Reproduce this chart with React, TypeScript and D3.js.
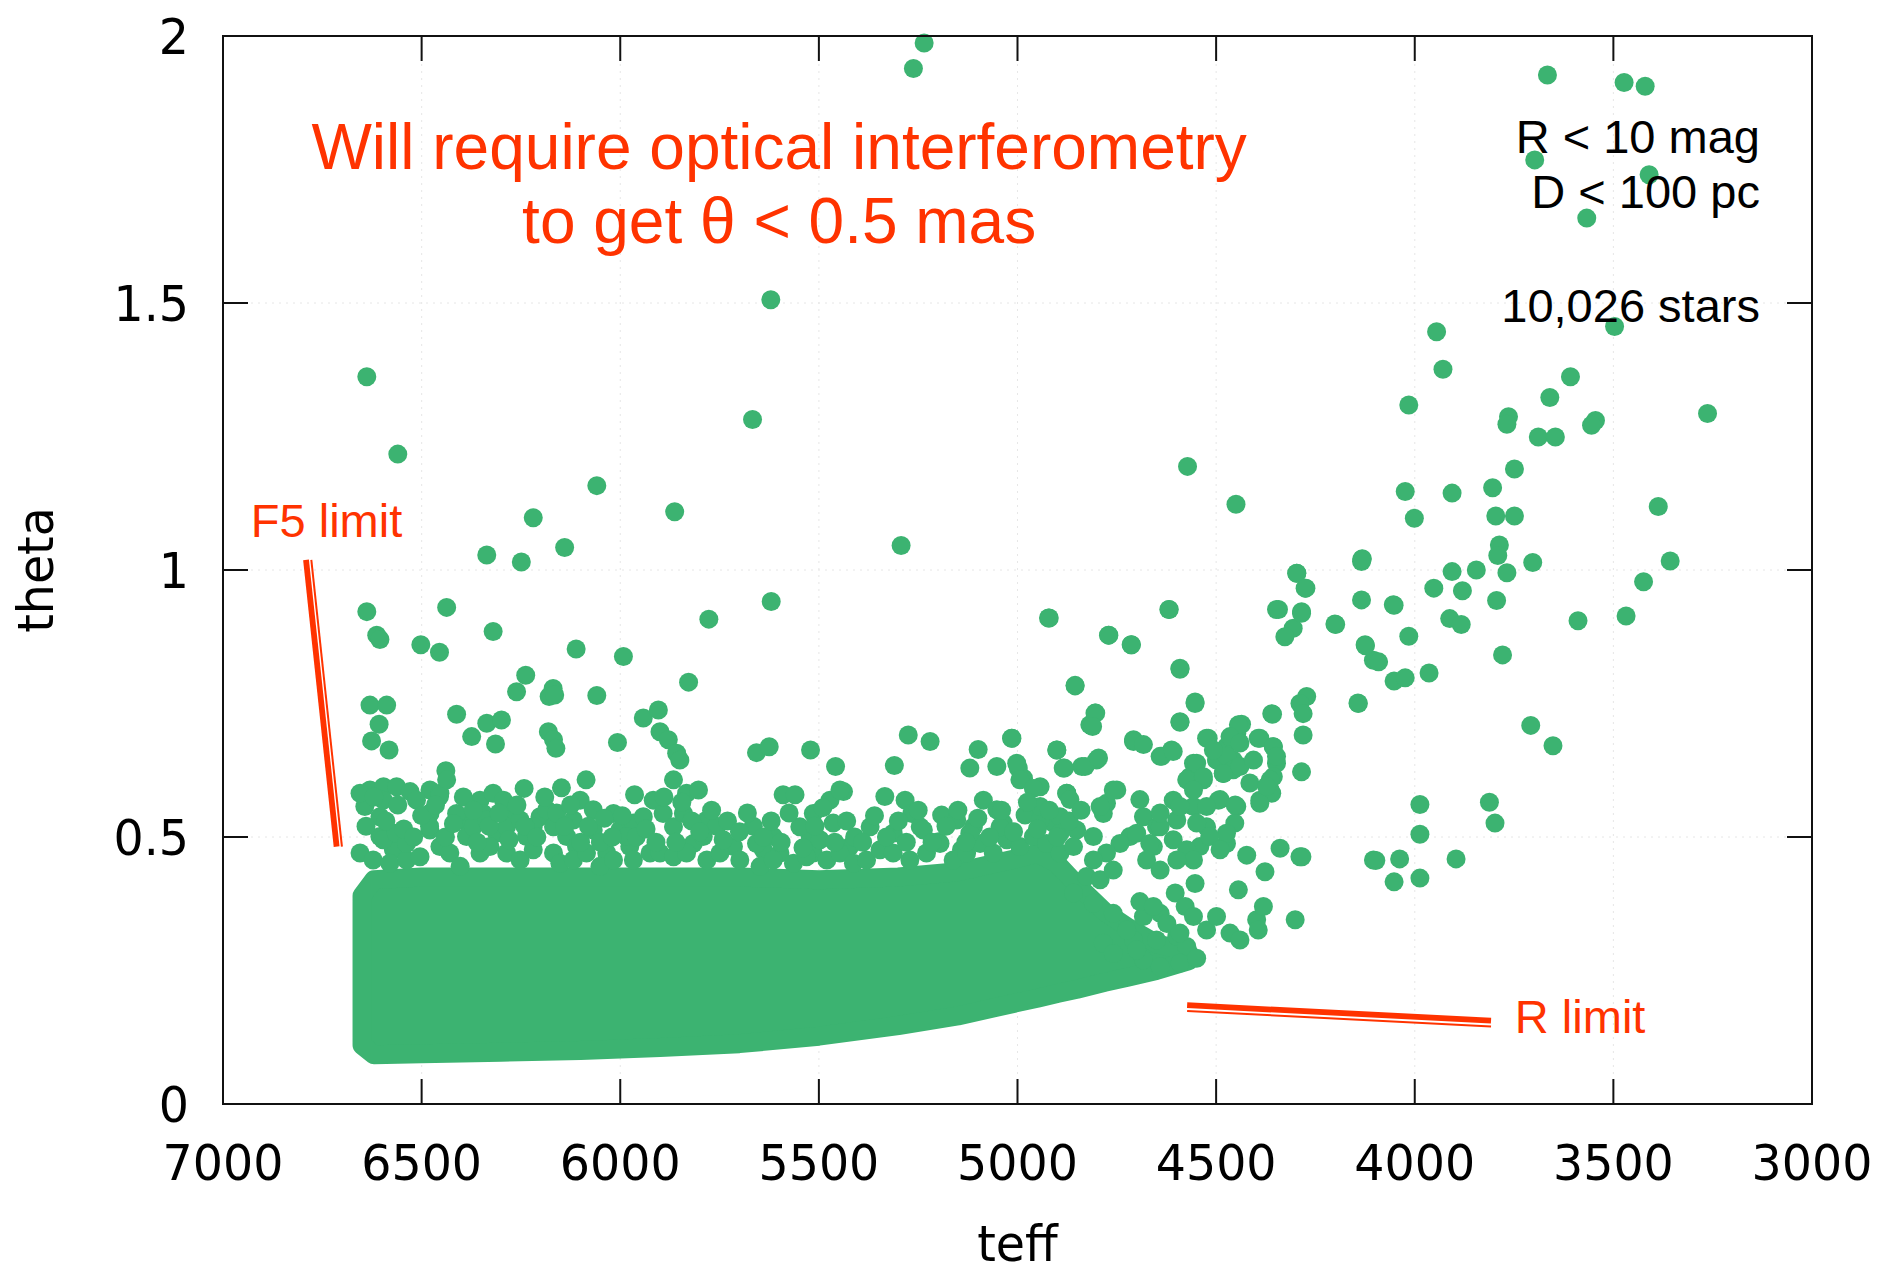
import React from 'react';
import * as d3 from 'd3';

const W = 1879;
const H = 1275;
const PLOT = { left: 223, right: 1812, top: 36, bottom: 1104 };

const xTicks = [7000, 6500, 6000, 5500, 5000, 4500, 4000, 3500, 3000];
const yTicks = [0, 0.5, 1, 1.5, 2];
const yTickLabels = ['0', '0.5', '1', '1.5', '2'];

// Envelope of the densely packed main-sequence core (dot centres)
const coreTeff = [6650, 6620, 6500, 6300, 6100, 5900, 5700, 5500, 5300, 5150, 5000, 4950, 4900, 4850, 4780, 4720, 4650, 4570];
const coreHigh = [0.39, 0.42, 0.425, 0.425, 0.425, 0.425, 0.425, 0.42, 0.425, 0.435, 0.46, 0.47, 0.45, 0.41, 0.36, 0.33, 0.30, 0.285];
const coreLow = [0.11, 0.092, 0.094, 0.097, 0.10, 0.106, 0.113, 0.127, 0.147, 0.165, 0.19, 0.198, 0.207, 0.215, 0.228, 0.238, 0.25, 0.268];

// Stars well above the core, hotter than ~5400 K  [teff, theta]
const hotStars: [number, number][] = [
  [6638, 1.362], [6560, 1.217], [6059, 1.158], [5863, 1.109], [6219, 1.098], [6140, 1.042],
  [6249, 1.015], [6336, 1.028], [5621, 1.506], [5667, 1.282], [5293, 1.046], [5620, 0.941],
  [5262, 1.939], [5235, 1.987],
  [6638, 0.922], [6613, 0.878], [6605, 0.870], [6437, 0.930], [6320, 0.885], [6502, 0.860],
  [6455, 0.846], [6111, 0.852], [5992, 0.838], [5777, 0.908],
  [6238, 0.803], [6261, 0.772], [6169, 0.778], [6179, 0.763], [6165, 0.766], [6059, 0.765], [5828, 0.790],
  [6630, 0.747], [6588, 0.747], [6607, 0.711], [6626, 0.680], [6582, 0.663], [6412, 0.730],
  [6374, 0.688], [6336, 0.713], [6299, 0.719], [6314, 0.674], [6181, 0.697], [6168, 0.682],
  [6162, 0.666], [6007, 0.677], [5942, 0.723], [5904, 0.738], [5900, 0.697], [5879, 0.682],
  [5858, 0.657], [5850, 0.644], [5657, 0.658], [5625, 0.669], [5521, 0.663], [5458, 0.632],
  [6439, 0.624], [6242, 0.591], [6148, 0.592], [6086, 0.607], [5964, 0.579], [5590, 0.579],
  [5560, 0.579], [5438, 0.585],
];

// Loose fringe on top of the core, 6700-5400 K
const hotFringe: [number, number][] = [
  [6630, 0.588], [6596, 0.594], [6563, 0.594], [6529, 0.585], [6643, 0.557], [6605, 0.538],
  [6605, 0.501], [6571, 0.507], [6571, 0.476], [6479, 0.588], [6454, 0.582], [6437, 0.607],
  [6479, 0.544], [6479, 0.513], [6454, 0.482], [6395, 0.532], [6353, 0.569], [6320, 0.582],
  [6294, 0.569], [6387, 0.501], [6345, 0.544], [6311, 0.507], [6269, 0.544], [6236, 0.501],
  [6202, 0.538], [6185, 0.551], [6135, 0.501], [6101, 0.569], [6068, 0.551], [6110, 0.482],
  [6068, 0.513], [6034, 0.470], [6001, 0.513], [5967, 0.526], [5942, 0.538], [5917, 0.569],
  [5892, 0.544], [5976, 0.482], [5925, 0.470], [5866, 0.607], [5833, 0.582], [5803, 0.588],
  [5782, 0.532], [5757, 0.520], [5816, 0.488], [5715, 0.482], [5665, 0.520], [5640, 0.476],
  [5598, 0.470], [5514, 0.544], [5472, 0.569], [5447, 0.588], [5464, 0.526], [5522, 0.501],
  [5514, 0.470], [5422, 0.482],
  [6597, 0.495], [6564, 0.507], [6480, 0.544], [6455, 0.576], [6480, 0.520],
  [6655, 0.470], [6622, 0.457], [6580, 0.451], [6538, 0.457], [6504, 0.463], [6429, 0.470],
  [6403, 0.445], [6353, 0.470], [6328, 0.482], [6286, 0.470], [6252, 0.457], [6219, 0.476],
  [6168, 0.470], [6152, 0.451], [6118, 0.457], [6085, 0.470], [6051, 0.445], [6017, 0.457],
  [5967, 0.457], [5900, 0.470], [5866, 0.463], [5833, 0.470], [5782, 0.457], [5749, 0.470],
  [5699, 0.457], [5648, 0.445], [5615, 0.457], [5564, 0.451], [5531, 0.463], [5480, 0.457],
  [5447, 0.470], [5413, 0.451],
  [6370, 0.519], [6336, 0.532], [6412, 0.544], [6286, 0.519], [6252, 0.532], [6219, 0.519],
  [6168, 0.519], [6118, 0.532], [6017, 0.544], [5984, 0.501], [5866, 0.519], [5841, 0.544],
  [5791, 0.501], [5741, 0.495], [5548, 0.519], [5497, 0.495], [5615, 0.501], [5657, 0.488],
  [6538, 0.488], [6596, 0.569], [6655, 0.582], [6513, 0.569],
  [6640, 0.520], [6620, 0.575], [6590, 0.530], [6560, 0.560], [6545, 0.515], [6520, 0.500],
  [6500, 0.540], [6465, 0.560], [6440, 0.500], [6420, 0.525], [6395, 0.575], [6370, 0.550],
  [6360, 0.490], [6330, 0.520], [6305, 0.545], [6280, 0.495], [6260, 0.560], [6240, 0.520],
  [6210, 0.500], [6190, 0.575], [6160, 0.545], [6140, 0.520], [6125, 0.560], [6100, 0.490],
  [6080, 0.520], [6050, 0.490], [6040, 0.535], [6020, 0.500], [5995, 0.540], [5960, 0.500],
  [5935, 0.515], [5910, 0.490], [5890, 0.575], [5860, 0.490], [5845, 0.565], [5820, 0.530],
  [5800, 0.510], [5770, 0.550], [5730, 0.530], [5700, 0.510], [5680, 0.545], [5640, 0.500],
  [5620, 0.530], [5595, 0.490], [5575, 0.545], [5540, 0.480], [5510, 0.520], [5490, 0.555],
  [5460, 0.490], [5430, 0.530], [5410, 0.500],
];

// Stars between 5400 K and 4300 K off the core
const warmStars: [number, number][] = [
  [4922, 0.910], [4771, 0.878], [4713, 0.860], [4618, 0.926], [4591, 0.816], [4855, 0.783],
  [4553, 0.753], [4591, 0.715], [4805, 0.732], [4818, 0.710],
  [4297, 0.994], [4276, 0.966], [4348, 0.926], [4285, 0.922], [4306, 0.891], [4327, 0.875],
  [4134, 1.016], [4134, 0.944], [4201, 0.899], [4125, 0.860], [4104, 0.831],
  [4272, 0.763], [4289, 0.750], [4281, 0.731], [4281, 0.691], [4285, 0.622], [4142, 0.750],
  [4360, 0.731], [4436, 0.711], [4394, 0.685], [4524, 0.685], [4474, 0.669], [4457, 0.644],
  [4482, 0.619], [4448, 0.694], [4557, 0.638], [4566, 0.613], [4532, 0.607],
  [4356, 0.669], [4348, 0.638], [4356, 0.613], [4364, 0.588], [4390, 0.569],
  [4494, 0.569], [4448, 0.557], [4453, 0.526], [4474, 0.488],
  [4708, 0.679], [4641, 0.651], [4612, 0.663], [5275, 0.691], [5220, 0.679], [5310, 0.634],
  [5334, 0.576], [5283, 0.569], [5266, 0.544], [5245, 0.519], [5099, 0.664], [5120, 0.629],
  [5052, 0.632], [5015, 0.685], [4901, 0.663], [4885, 0.629], [4838, 0.632], [4801, 0.644],
  [4998, 0.629], [4985, 0.610], [4943, 0.594], [4876, 0.582], [5086, 0.569], [5052, 0.551],
  [5036, 0.526], [4981, 0.541], [5191, 0.541], [5153, 0.532], [5111, 0.519], [5199, 0.491],
  [5141, 0.476], [4910, 0.526], [4893, 0.538], [4851, 0.513], [4809, 0.501], [4776, 0.563],
  [4750, 0.588], [4784, 0.544], [4683, 0.538], [4650, 0.519], [4608, 0.569], [4599, 0.532],
  [4557, 0.557], [4524, 0.519], [4541, 0.482], [4474, 0.507], [4717, 0.501], [4658, 0.482],
  [4700, 0.507], [4667, 0.488], [4641, 0.519], [4608, 0.495], [4574, 0.476], [4549, 0.526],
  [4516, 0.501], [4490, 0.476], [4557, 0.457], [4675, 0.457], [4641, 0.438], [4599, 0.457],
  [4742, 0.488], [4776, 0.470], [4809, 0.457], [4826, 0.426], [4792, 0.420], [4759, 0.438],
  [4859, 0.395], [4809, 0.376], [4759, 0.357], [4683, 0.351], [4641, 0.357], [4599, 0.314],
  [4574, 0.295], [4683, 0.270], [4641, 0.257], [4591, 0.264], [4524, 0.326], [4708, 0.307],
  [4423, 0.466], [4377, 0.435], [4339, 0.479], [4289, 0.463], [4444, 0.401], [4553, 0.413],
  [4603, 0.395], [4578, 0.370], [4557, 0.351], [4692, 0.379], [4658, 0.370], [4499, 0.351],
  [4465, 0.320], [4440, 0.307], [4398, 0.345], [4381, 0.370], [4394, 0.326], [4301, 0.345],
  [4725, 0.326], [4700, 0.289], [4650, 0.307], [4624, 0.338], [4591, 0.320], [4549, 0.273],
  [4784, 0.301], [4759, 0.282], [4104, 0.457],
  [4572, 1.194], [4450, 1.123], [4920, 0.910], [4770, 0.878], [4714, 0.860], [4619, 0.926],
  [4591, 0.814], [4855, 0.784], [4553, 0.750], [4591, 0.716], [4803, 0.732], [4811, 0.707],
  [4358, 0.730], [5014, 0.685], [4901, 0.663], [4882, 0.629], [4830, 0.632], [4796, 0.648],
  [4708, 0.682], [4683, 0.673], [4637, 0.651], [4608, 0.660], [4520, 0.685], [4444, 0.710],
  [4465, 0.688], [4440, 0.676], [4499, 0.644], [4473, 0.651], [4457, 0.626], [4390, 0.685],
  [4356, 0.669], [4348, 0.651], [4364, 0.607], [4360, 0.582], [4390, 0.563], [4549, 0.638],
  [4574, 0.607], [4532, 0.613], [4490, 0.570], [4452, 0.560], [5002, 0.638], [4994, 0.607],
  [4960, 0.591], [4876, 0.582], [4868, 0.570],
  [5380, 0.457], [5346, 0.476], [5313, 0.470], [5271, 0.457], [5229, 0.470], [5195, 0.488],
  [5162, 0.457], [5128, 0.470], [5094, 0.488], [5061, 0.470], [5027, 0.495], [4994, 0.482],
  [4960, 0.501], [4927, 0.488], [4893, 0.470], [4859, 0.482], [5313, 0.507], [5237, 0.513],
  [5120, 0.507], [5044, 0.519], [4943, 0.532], [4893, 0.507], [5371, 0.519],
  [4507, 0.663], [4482, 0.619], [4440, 0.632], [4415, 0.601], [4406, 0.644], [4373, 0.595],
  [4557, 0.588], [4524, 0.557], [4591, 0.557], [4641, 0.545], [4692, 0.570], [4759, 0.588],
  [4792, 0.557], [4943, 0.557],
  [5390, 0.490], [5360, 0.540], [5330, 0.500], [5300, 0.530], [5280, 0.490], [5250, 0.550],
  [5215, 0.490], [5180, 0.520], [5150, 0.550], [5130, 0.490], [5100, 0.535], [5070, 0.500],
  [5040, 0.550], [5010, 0.510], [4975, 0.565], [4950, 0.515], [4920, 0.550], [4900, 0.500],
  [4870, 0.530], [4840, 0.550],
];

// Cool dwarfs and giants below 4300 K
const coolStars: [number, number][] = [
  [3666, 1.927], [3473, 1.913], [3420, 1.906], [3698, 1.768], [3410, 1.740], [3567, 1.659],
  [3497, 1.456], [3945, 1.446], [3929, 1.376], [3608, 1.362], [3660, 1.323], [4015, 1.309],
  [3263, 1.293], [3764, 1.287], [3768, 1.273], [3689, 1.249], [3646, 1.249], [3545, 1.280],
  [3555, 1.271], [3749, 1.189], [4024, 1.147], [4001, 1.097], [3906, 1.144], [3804, 1.154],
  [3796, 1.101], [3749, 1.101], [3787, 1.047], [3791, 1.027], [3768, 0.995], [3703, 1.014],
  [3387, 1.119], [3357, 1.017], [3424, 0.978], [3468, 0.914], [3589, 0.905], [3906, 0.997],
  [3845, 1.000], [3880, 0.961], [3952, 0.966], [3912, 0.909], [3883, 0.898], [3794, 0.943],
  [3779, 0.841], [4133, 1.020], [4052, 0.934], [4015, 0.876], [4199, 0.898], [4124, 0.858],
  [4091, 0.828], [4052, 0.792], [4024, 0.798], [3964, 0.807], [4143, 0.751], [3708, 0.709],
  [3652, 0.671], [3987, 0.561], [3987, 0.505], [3812, 0.565], [3798, 0.526], [3896, 0.459],
  [4098, 0.456], [4038, 0.459], [4052, 0.416], [3987, 0.423], [4297, 0.994], [4274, 0.966],
  [4343, 0.926], [4285, 0.919], [4284, 0.463], [4132, 1.021], [4054, 0.935],
];

const GREEN = '#3cb371';
const RED = '#ff3300';
const SANS = "'DejaVu Sans', sans-serif";
const ARIAL = "'Liberation Sans', Arial, sans-serif";
const DOT_R = 9.5;

export default function App() {
  React.useEffect(() => {
    document.body.style.margin = '0';
    document.body.style.overflow = 'hidden';
  }, []);

  const x = d3.scaleLinear().domain([7000, 3000]).range([PLOT.left, PLOT.right]);
  const y = d3.scaleLinear().domain([0, 2]).range([PLOT.bottom, PLOT.top]);

  const core = d3
    .area<number>()
    .x((d) => x(d))
    .y0((_, i) => y(coreLow[i]))
    .y1((_, i) => y(coreHigh[i]))(coreTeff) as string;

  const stars = [...hotStars, ...hotFringe, ...warmStars, ...coolStars];
  const tickLen = 25;

  // annotation pointers in data units
  const f5Line: [number, number][] = [[6791, 1.019], [6714, 0.482]];
  const rLine: [number, number][] = [[4573, 0.185], [3808, 0.156]];

  const doubleLine = (pts: [number, number][], dx: number, dy: number, key: string) => (
    <g key={key}>
      <line x1={x(pts[0][0])} y1={y(pts[0][1])} x2={x(pts[1][0])} y2={y(pts[1][1])} stroke={RED} strokeWidth={5.8} />
      <line x1={x(pts[0][0]) + dx} y1={y(pts[0][1]) + dy} x2={x(pts[1][0]) + dx} y2={y(pts[1][1]) + dy} stroke={RED} strokeWidth={2} />
    </g>
  );

  return (
    <svg width={W} height={H} style={{ position: 'absolute', left: 0, top: 0, background: '#fff' }}>
      <rect x={0} y={0} width={W} height={H} fill="#fff" />
      {/* grid */}
      <g stroke="#d8d8d8" strokeWidth={1} strokeDasharray="2 5" opacity={0.6}>
        {xTicks.slice(1, -1).map((t) => (
          <line key={'gx' + t} x1={x(t)} x2={x(t)} y1={PLOT.top} y2={PLOT.bottom} />
        ))}
        {yTicks.slice(1, -1).map((t) => (
          <line key={'gy' + t} x1={PLOT.left} x2={PLOT.right} y1={y(t)} y2={y(t)} />
        ))}
      </g>

      {/* stars */}
      <path d={core} fill={GREEN} stroke={GREEN} strokeWidth={DOT_R * 2} strokeLinejoin="round" />
      <g fill={GREEN}>
        {stars.map((s, i) => (
          <circle key={i} cx={x(s[0])} cy={y(s[1])} r={DOT_R} />
        ))}
      </g>

      {/* frame and ticks */}
      <rect x={PLOT.left} y={PLOT.top} width={PLOT.right - PLOT.left} height={PLOT.bottom - PLOT.top} fill="none" stroke="#111" strokeWidth={2} />
      <g stroke="#111" strokeWidth={2}>
        {xTicks.map((t) => (
          <g key={'tx' + t}>
            <line x1={x(t)} x2={x(t)} y1={PLOT.bottom} y2={PLOT.bottom - tickLen} />
            <line x1={x(t)} x2={x(t)} y1={PLOT.top} y2={PLOT.top + tickLen} />
          </g>
        ))}
        {yTicks.map((t) => (
          <g key={'ty' + t}>
            <line x1={PLOT.left} x2={PLOT.left + tickLen} y1={y(t)} y2={y(t)} />
            <line x1={PLOT.right} x2={PLOT.right - tickLen} y1={y(t)} y2={y(t)} />
          </g>
        ))}
      </g>

      {/* tick labels */}
      <g fontFamily={SANS} fontSize={50} fill="#000">
        {xTicks.map((t) => (
          <text key={'lx' + t} transform={`translate(${x(t)},${1180}) scale(0.95,1)`} textAnchor="middle">
            {t}
          </text>
        ))}
        {yTicks.map((t, i) => (
          <text key={'ly' + t} transform={`translate(${189},${y(t) + 18}) scale(0.95,1)`} textAnchor="end">
            {yTickLabels[i]}
          </text>
        ))}
        <text transform={`translate(${(PLOT.left + PLOT.right) / 2},${1261}) scale(0.95,1)`} textAnchor="middle">
          teff
        </text>
        <text transform={`translate(${53},${(PLOT.top + PLOT.bottom) / 2}) rotate(-90) scale(0.95,1)`} textAnchor="middle">
          theta
        </text>
      </g>

      {/* annotations */}
      <g fontFamily={ARIAL} fill={RED}>
        <text x={x(5600)} y={y(1.751)} fontSize={64} textAnchor="middle">Will require optical interferometry</text>
        <text x={x(5600)} y={y(1.612)} fontSize={64} textAnchor="middle">to get θ &lt; 0.5 mas</text>
        <text x={x(6930)} y={y(1.062)} fontSize={47}>F5 limit</text>
        <text x={x(3748)} y={y(0.133)} fontSize={47}>R limit</text>
      </g>
      {doubleLine(f5Line, 5.3, 0, 'f5')}
      {doubleLine(rLine, 0, 5.8, 'rl')}

      <g fontFamily={ARIAL} fill="#000" fontSize={47} textAnchor="end">
        <text x={x(3131)} y={y(1.781)}>R &lt; 10 mag</text>
        <text x={x(3131)} y={y(1.678)}>D &lt; 100 pc</text>
        <text x={x(3131)} y={y(1.464)}>10,026 stars</text>
      </g>
    </svg>
  );
}
